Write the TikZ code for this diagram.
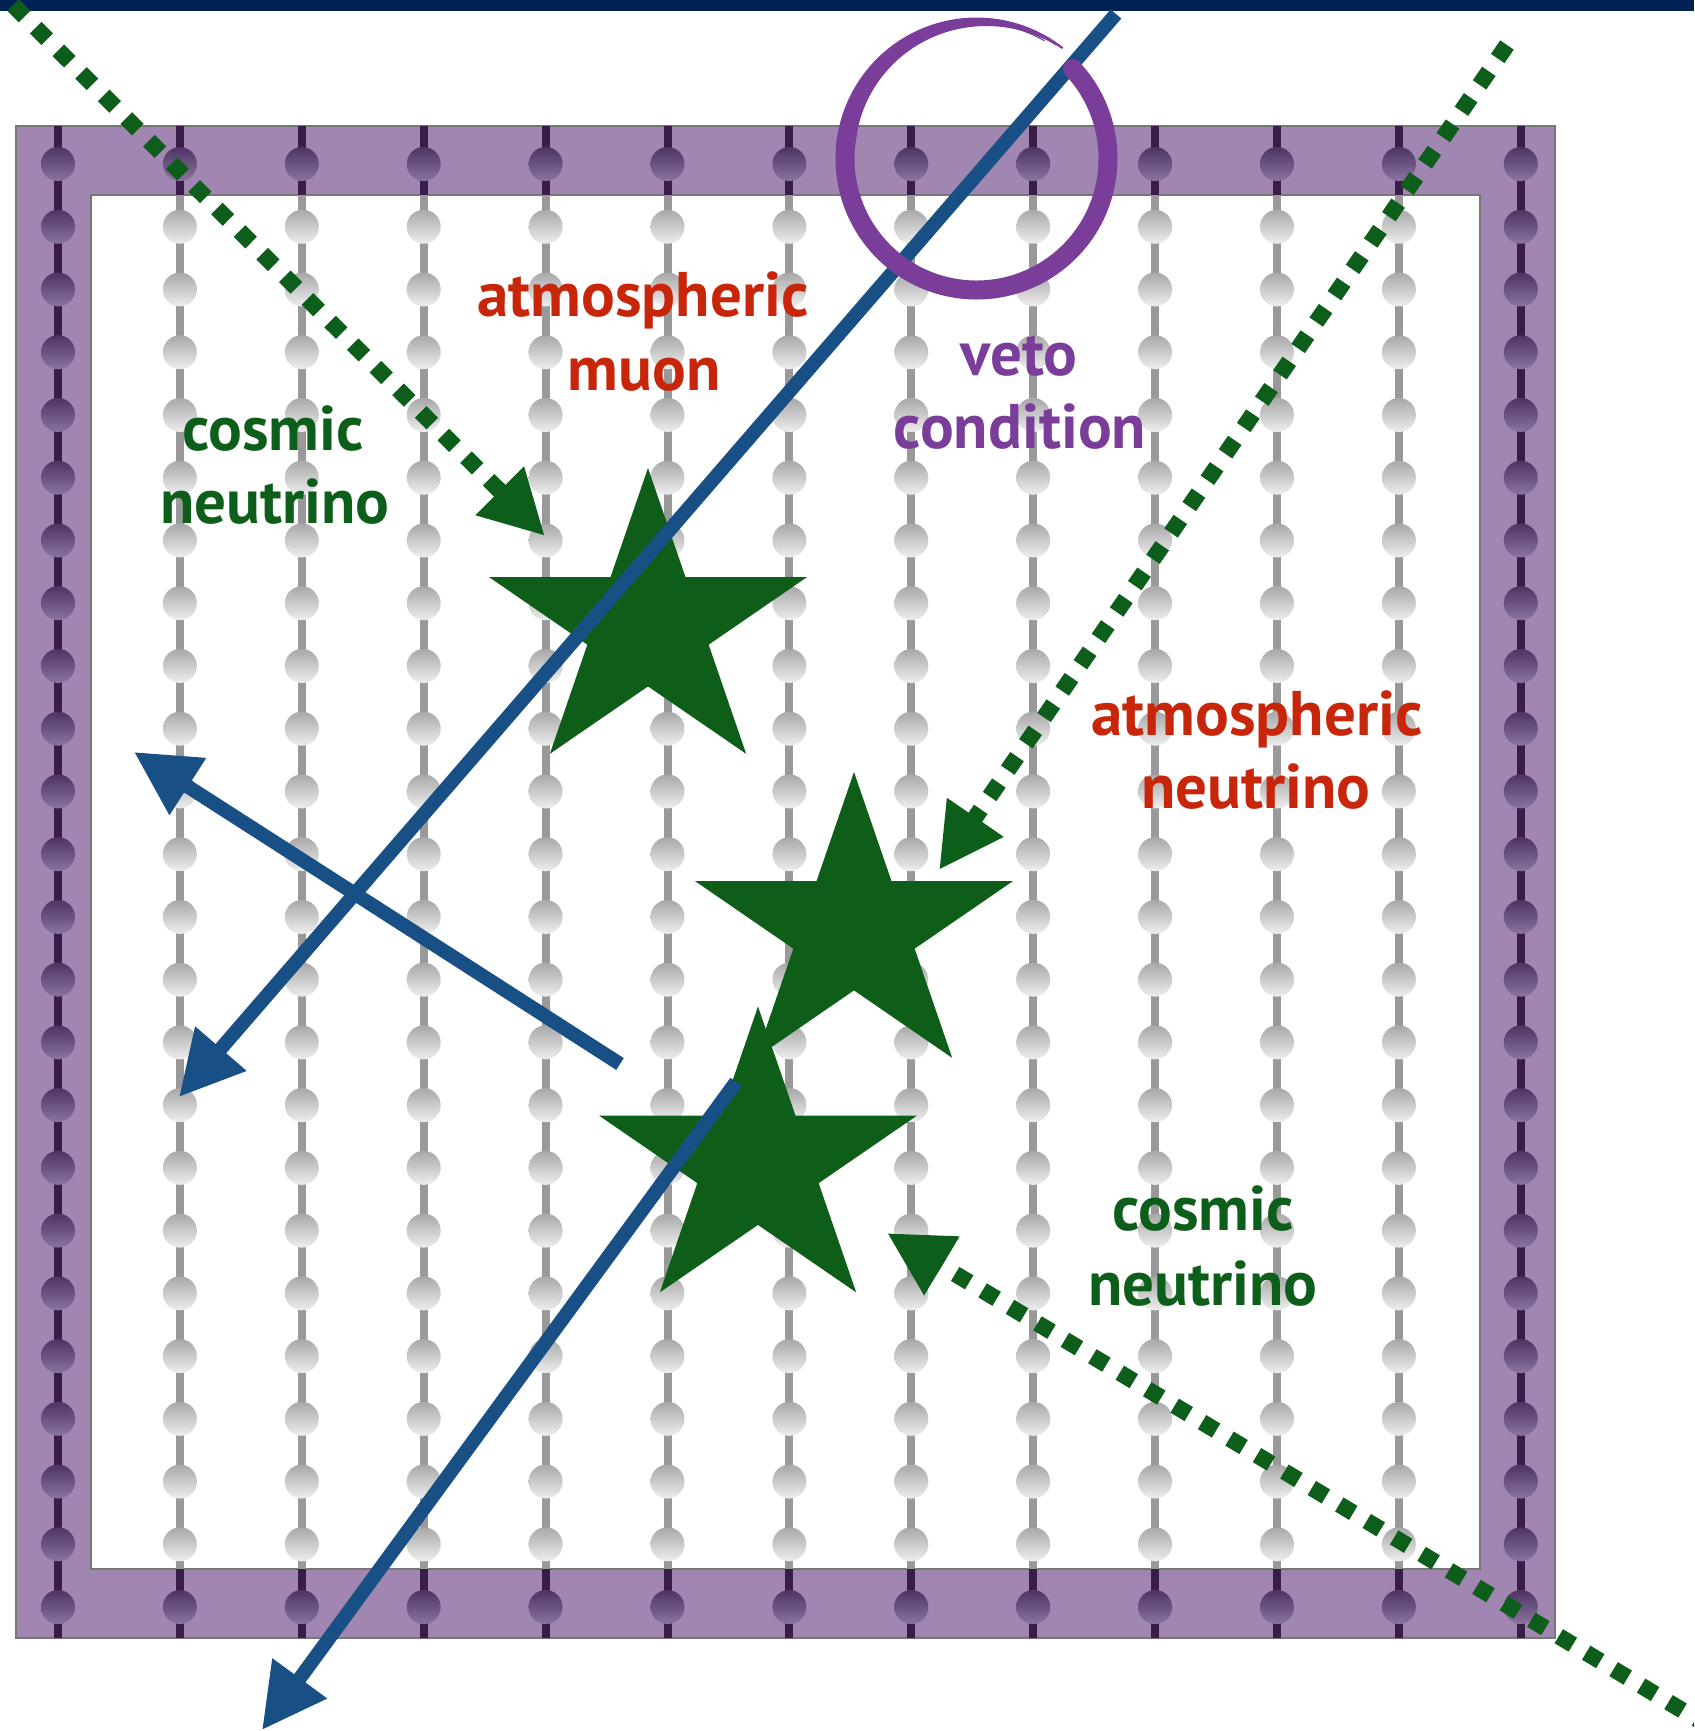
\documentclass[tikz,border=0pt]{standalone}
\usepackage{fontspec}
\setmainfont{PT Sans}
\usetikzlibrary{arrows.meta}
\definecolor{navyC}{HTML}{002255}
\definecolor{bandC}{HTML}{A086B0}
\definecolor{bandEdge}{HTML}{777777}
\definecolor{darkStr}{HTML}{3A1C48}
\definecolor{grayStr}{HTML}{999999}
\definecolor{domPurTop}{HTML}{4E3463}
\definecolor{domPurBot}{HTML}{8A74A0}
\definecolor{domGrayTop}{HTML}{A8A8A8}
\definecolor{domGrayBot}{HTML}{EEEEEE}
\definecolor{starC}{HTML}{0E5E1A}
\definecolor{blueC}{HTML}{185086}
\definecolor{greenC}{HTML}{0D5E1A}
\definecolor{redC}{HTML}{C8260A}
\definecolor{vetoC}{HTML}{7A3E9A}
\tikzset{
  darkstr/.style={draw=darkStr, line width=4pt},
  graystr/.style={draw=grayStr, line width=4pt},
  purdom/.style={top color=domPurTop, bottom color=domPurBot},
  graydom/.style={top color=domGrayTop, bottom color=domGrayBot},
  mystar/.pic={\fill[starC] (-90:167 and 158) -- (-54:63.8 and 60.4) -- (-18:167 and 158) -- (18:63.8 and 60.4) -- (54:167 and 158) -- (90:63.8 and 60.4) -- (126:167 and 158) -- (162:63.8 and 60.4) -- (198:167 and 158) -- (234:63.8 and 60.4) -- cycle;},
  track/.style={draw=blueC, line width=7pt, -{Triangle[length=32pt,width=32pt]}},
  nu/.style={draw=greenC, line width=8.2pt, line cap=butt, dash pattern=on 8.2pt off 7.8pt, -{Triangle[length=32pt,width=32pt]}},
  lbl/.style={font=\bfseries\fontsize{31.5}{36}\selectfont, anchor=base, inner sep=0pt}
}
\begin{document}
\begin{tikzpicture}[x=0.5pt,y=-0.5pt]
\clip (0,0) rectangle (1694,1731);
\fill[white] (0,0) rectangle (1694,1731);
\fill[navyC] (0,0) rectangle (1694,11);
% veto band
\fill[bandC, even odd rule] (16,126) rectangle (1555,1638) (91,195) rectangle (1480,1569);
\draw[bandEdge, line width=1pt] (16,126) rectangle (1555,1638);
\draw[bandEdge, line width=1pt] (91,195) rectangle (1480,1569);
% strings
\foreach \k in {0,...,12}{
  \pgfmathsetmacro{\xx}{58+121.9*\k}
  \ifnum\k=0 \draw[darkstr] (\xx,126) -- (\xx,1638);
  \else\ifnum\k=12 \draw[darkstr] (\xx,126) -- (\xx,1638);
  \else
    \draw[darkstr] (\xx,126) -- (\xx,195);
    \draw[graystr] (\xx,195) -- (\xx,1569);
    \draw[darkstr] (\xx,1569) -- (\xx,1638);
  \fi\fi
}
% DOMs
\foreach \k in {0,...,12}{
  \foreach \r in {0,...,23}{
    \pgfmathsetmacro{\xx}{58+121.9*\k}
    \pgfmathsetmacro{\yy}{164+62.74*\r}
    \pgfmathtruncatemacro{\inband}{(\k==0)||(\k==12)||(\r==0)||(\r==23)}
    \ifnum\inband=1 \shade[purdom] (\xx,\yy) circle[radius=8.5pt];
    \else \shade[graydom] (\xx,\yy) circle[radius=8.5pt]; \fi
  }
}
% stars
\pic at (648,626) {mystar};
\pic at (854,930) {mystar};
\pic at (758,1164.5) {mystar};
% tracks
\coordinate (m1s) at (1116,14);
\coordinate (m1e) at (179,1097);
\coordinate (m2s) at (620,1064);
\coordinate (m2e) at (134,752);
\coordinate (m3s) at (736,1082);
\coordinate (m3e) at (262,1730);
\draw[track] (m1s) -- (m1e);
\draw[track] (m2s) -- (m2e);
\draw[track] (m3s) -- (m3e);
% neutrinos
\coordinate (n1s) at (13,5);
\coordinate (n1e) at (545,536);
\coordinate (n2s) at (1507,45);
\coordinate (n2e) at (939,870);
\coordinate (n3s) at (1710,1727);
\coordinate (n3e) at (887,1233);
\draw[nu] (n1s) -- (n1e);
\draw[nu] (n2s) -- (n2e);
\draw[nu] (n3s) -- (n3e);
% veto circle
\coordinate (vc) at (976.5,158.5);
\draw[vetoC, line width=9.5pt, line cap=round] (vc) ++(-43:131.5) arc[start angle=-43, end angle=192, radius=131.5];
\fill[vetoC] plot[domain=185:308,samples=60] ({976.5+141*cos(\x)},{158.5+141*sin(\x)}) -- plot[domain=308:185,samples=60] ({976.5+(122+17*((\x-185)/123)^1.4)*cos(\x)},{158.5+(122+17*((\x-185)/123)^1.4)*sin(\x)}) -- cycle;
\draw[vetoC, line width=0.6pt] (vc) ++(200:136) arc[start angle=200, end angle=300, radius=136];
\draw[vetoC, line width=0.4pt] (vc) ++(210:138.5) arc[start angle=210, end angle=305, radius=138.5];
% labels
\node[lbl, text=redC] (am1) at (643,316) {atmospheric};
\node[lbl, text=redC] (am2) at (644,390) {muon};
\node[lbl, text=greenC] (cn1) at (273,450) {cosmic};
\node[lbl, text=greenC] (cn2) at (275,523) {neutrino};
\node[lbl, text=vetoC] (vc1) at (1019,375) {veto};
\node[lbl, text=vetoC] (vc2) at (1020,448) {condition};
\node[lbl, text=redC] (an1) at (1257,735) {atmospheric};
\node[lbl, text=redC] (an2) at (1256,808) {neutrino};
\node[lbl, text=greenC] (cb1) at (1203,1230) {cosmic};
\node[lbl, text=greenC] (cb2) at (1203,1305) {neutrino};
\end{tikzpicture}
\end{document}
